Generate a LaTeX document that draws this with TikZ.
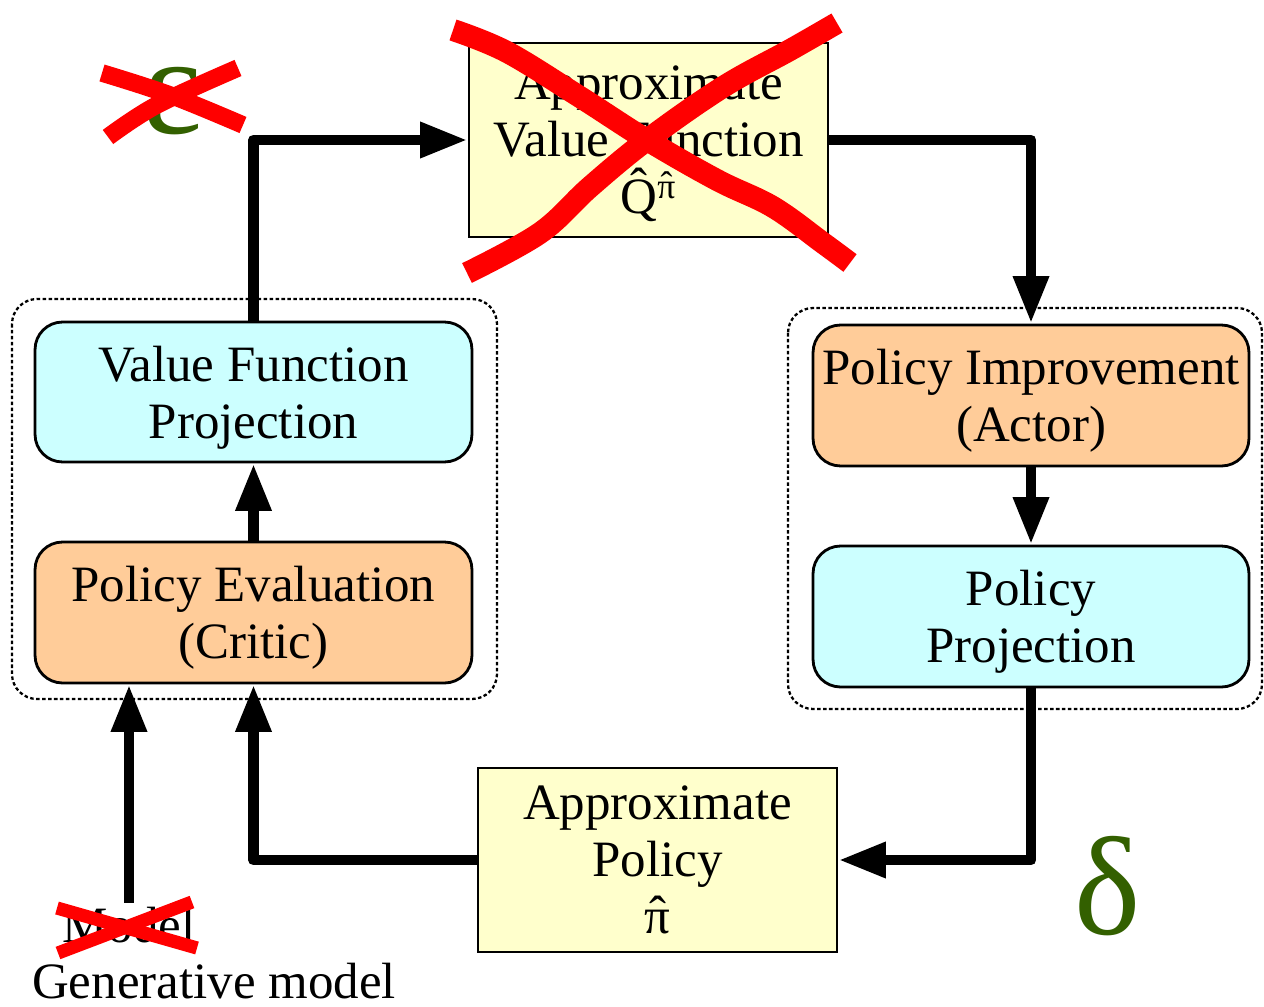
\documentclass[tikz,border=0pt]{standalone}
\usepackage{fontspec}
\setmainfont{Liberation Serif}
\usetikzlibrary{arrows.meta}

\definecolor{boxyellow}{RGB}{255,255,204}
\definecolor{boxcyan}{RGB}{204,255,255}
\definecolor{boxorange}{RGB}{255,204,153}
\definecolor{greekgreen}{RGB}{51,96,0}
\definecolor{strike}{RGB}{255,0,0}

% a circumflex centred over a glyph, raised by the optional amount
\newcommand{\hatover}[2][0pt]{{\ooalign{#2\cr\hidewidth\raisebox{#1}{\char"02C6}\hidewidth\cr}}}

\tikzset{
  txt/.style={font=\fontsize{29}{32.5}\selectfont, align=center},
  plainbox/.style={txt, draw=black, line width=1.6pt, inner sep=0pt, text depth=0pt},
  roundbox/.style={plainbox, rounded corners=0.55cm},
  frame/.style={draw=black, line width=1.3pt, dash pattern=on 2pt off 1.4pt, rounded corners=0.5cm},
  arr/.style={line width=6.2pt, line join=round, -{Triangle[length=27pt,width=19pt]}},
  greek/.style={font=\fontsize{80}{80}\selectfont, text=greekgreen, inner sep=0pt},
  cross/.style={draw=strike, line width=#1, line join=round, line cap=butt},
}

\begin{document}
\begin{tikzpicture}[x=0.02cm, y=-0.02cm]
  \useasboundingbox (0,0) rectangle (1264,1007);

  % dotted groupings: critic side and actor side
  \draw[frame] (12,299) rectangle (497,699);
  \draw[frame] (788,308) rectangle (1262,709);

  % blocks
  \node[plainbox, fill=boxyellow, minimum width=7.18cm, minimum height=3.88cm]
    (avf) at (648.5,140) {Approximate\\Value Function\\\hatover[0.2em]{Q}\textsuperscript{\hatover[0.05em]{π}}};
  \node[roundbox, fill=boxcyan, minimum width=8.74cm, minimum height=2.80cm]
    (vfp) at (253.5,392) {Value Function\\Projection};
  \node[roundbox, fill=boxorange, minimum width=8.74cm, minimum height=2.82cm]
    (pe) at (253.5,612.5) {Policy Evaluation\\(Critic)};
  \node[roundbox, fill=boxorange, minimum width=8.72cm, minimum height=2.82cm]
    (pi) at (1031,395.5) {Policy Improvement\\(Actor)};
  \node[roundbox, fill=boxcyan, minimum width=8.72cm, minimum height=2.82cm]
    (pp) at (1031,616.5) {Policy\\Projection};
  \node[plainbox, fill=boxyellow, minimum width=7.18cm, minimum height=3.68cm]
    (ap) at (657.5,860) {Approximate\\Policy\\\hatover[0.05em]{π}};

  % input labels
  \node[txt, anchor=base, inner sep=2pt] (model) at (129,942) {Model};
  \node[txt, anchor=base, inner sep=0pt] (gen) at (214,998) {Generative model};

  % error symbols
  \node[greek, anchor=base] (eps) at (173,133) {ε};
  \node[greek, anchor=base] (delta) at (1108,934) {δ};

  % the iteration loop
  \draw[arr] (vfp.north) |- (avf.west);
  \draw[arr] (avf.east) -| (pi.north);
  \draw[arr] (pi.south) -- (pp.north);
  \draw[arr] (pp.south) |- (ap.east);
  \draw[arr] (ap.west) -| (pe.south);
  \draw[arr] (pe.north) -- (vfp.south);
  \draw[arr] (model.north) -- (model.north |- pe.south);

  % hand-drawn strike-outs
  \draw[cross=12.5pt] plot[smooth, tension=0.6] coordinates
    {(453,30) (507,52) (580,97) (647,140) (717,180) (773,207) (823,243) (850,263)};
  \draw[cross=12.5pt] plot[smooth, tension=0.6] coordinates
    {(467,273) (540,233) (590,187) (647,140) (723,87) (790,50) (837,23)};

  \draw[cross=10pt] plot[smooth, tension=0.6] coordinates
    {(102,73) (170,95) (243,125)};
  \draw[cross=10pt] plot[smooth, tension=0.6] coordinates
    {(108,137) (157,105) (238,68)};

  \draw[cross=7.5pt] (57,908) -- (197,948);
  \draw[cross=7.5pt] (58,953) -- (192,902);
\end{tikzpicture}
\end{document}
